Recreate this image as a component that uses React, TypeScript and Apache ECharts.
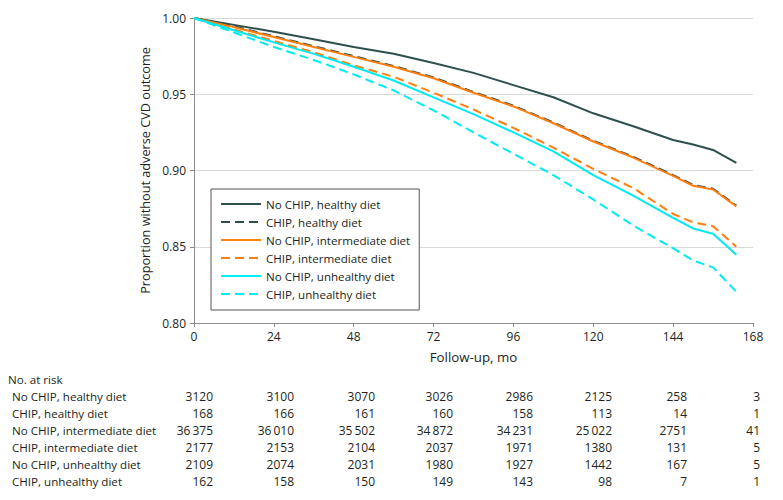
import React, { useEffect, useRef } from "react";
import * as echarts from "echarts";

const months = [0, 12, 24, 36, 48, 60, 72, 84, 96, 108, 120, 132, 144, 150, 156, 163];

const noChipHealthy = [1, 0.9955, 0.991, 0.986, 0.981, 0.9765, 0.9705, 0.964, 0.956, 0.948, 0.9375, 0.929, 0.92, 0.917, 0.9135, 0.905];
const chipHealthy = [1, 0.9945, 0.988, 0.9815, 0.975, 0.9685, 0.961, 0.9515, 0.9425, 0.9315, 0.9195, 0.909, 0.897, 0.8905, 0.888, 0.877];
const noChipIntermediate = [1, 0.994, 0.9875, 0.981, 0.9745, 0.968, 0.9605, 0.951, 0.942, 0.931, 0.919, 0.9085, 0.8965, 0.89, 0.8875, 0.8765];
const chipIntermediate = [1, 0.9925, 0.985, 0.9775, 0.969, 0.9615, 0.951, 0.94, 0.928, 0.915, 0.901, 0.8885, 0.8715, 0.866, 0.8635, 0.85];
const noChipUnhealthy = [1, 0.992, 0.984, 0.9765, 0.968, 0.959, 0.948, 0.937, 0.925, 0.9125, 0.897, 0.8835, 0.869, 0.862, 0.8585, 0.8447];
const chipUnhealthy = [1, 0.9905, 0.981, 0.9725, 0.963, 0.9525, 0.9395, 0.925, 0.911, 0.897, 0.881, 0.864, 0.849, 0.841, 0.8365, 0.8204];

const groupNames = [
  "No CHIP, healthy diet",
  "CHIP, healthy diet",
  "No CHIP, intermediate diet",
  "CHIP, intermediate diet",
  "No CHIP, unhealthy diet",
  "CHIP, unhealthy diet",
];

const riskTimes = [0, 24, 48, 72, 96, 120, 144, 168];
const riskNoChipHealthy = ["3120", "3100", "3070", "3026", "2986", "2125", "258", "3"];
const riskChipHealthy = ["168", "166", "161", "160", "158", "113", "14", "1"];
const riskNoChipIntermediate = ["36\u2009375", "36\u2009010", "35\u2009502", "34\u2009872", "34\u2009231", "25\u2009022", "2751", "41"];
const riskChipIntermediate = ["2177", "2153", "2104", "2037", "1971", "1380", "131", "5"];
const riskNoChipUnhealthy = ["2109", "2074", "2031", "1980", "1927", "1442", "167", "5"];
const riskChipUnhealthy = ["162", "158", "150", "149", "143", "98", "7", "1"];

const FONT = '"Open Sans", "Noto Sans", sans-serif';
const TEXT = "#231f20";
const DARK = "#2f4f4f";
const ORANGE = "#ff7f0e";
const CYAN = "#00ebf2";

export default function App() {
  const ref = useRef<HTMLDivElement>(null);

  useEffect(() => {
    if (!ref.current) return;
    const chart = echarts.init(ref.current, null, { renderer: "svg" });

    const seriesValues = [
      noChipHealthy,
      chipHealthy,
      noChipIntermediate,
      chipIntermediate,
      noChipUnhealthy,
      chipUnhealthy,
    ];
    const colors = [DARK, DARK, ORANGE, ORANGE, CYAN, CYAN];
    const dashed = [false, true, false, true, false, true];

    const series = seriesValues.map((vals, i) => ({
      name: groupNames[i],
      type: "line",
      symbol: "none",
      data: months.map((m, j) => [m, vals[j]]),
      lineStyle: {
        color: colors[i],
        width: 2,
        type: dashed[i] ? [9, 5] : "solid",
      },
      itemStyle: { color: colors[i] },
      z: 2 + i,
    }));

    const riskRows = [
      riskNoChipHealthy,
      riskChipHealthy,
      riskNoChipIntermediate,
      riskChipIntermediate,
      riskNoChipUnhealthy,
      riskChipUnhealthy,
    ];
    const colRight = [213, 294, 375, 453, 533, 612, 687, 760];
    const rowY = [396, 413, 430, 447, 464, 481];

    const graphics: any[] = [
      {
        type: "text",
        x: 8,
        y: 379,
        style: {
          text: "No. at risk",
          font: `11.6px ${FONT}`,
          fill: TEXT,
          textAlign: "left",
          textVerticalAlign: "middle",
        },
      },
    ];
    riskRows.forEach((row, r) => {
      graphics.push({
        type: "text",
        x: 12,
        y: rowY[r],
        style: {
          text: groupNames[r],
          font: `11.6px ${FONT}`,
          fill: TEXT,
          textAlign: "left",
          textVerticalAlign: "middle",
        },
      });
      row.forEach((v, c) => {
        graphics.push({
          type: "text",
          x: colRight[c],
          y: rowY[r],
          style: {
            text: v,
            font: `12px ${FONT}`,
            fill: TEXT,
            textAlign: "right",
            textVerticalAlign: "middle",
          },
        });
      });
    });

    chart.setOption({
      animation: false,
      backgroundColor: "#ffffff",
      textStyle: { fontFamily: FONT },
      grid: { left: 194, right: 30, top: 18, bottom: 177, containLabel: false },
      legend: {
        orient: "vertical",
        left: 211,
        top: 189,
        padding: [8, 9, 9, 9],
        itemWidth: 40,
        itemHeight: 14,
        itemGap: 4,
        backgroundColor: "#ffffff",
        borderColor: "#555555",
        borderWidth: 1,
        borderRadius: 0,
        data: groupNames,
        itemStyle: { opacity: 0 },
        textStyle: { fontFamily: FONT, fontSize: 11.6, color: TEXT, lineHeight: 14 },
      },
      xAxis: {
        type: "value",
        min: 0,
        max: 168,
        interval: 24,
        name: "Follow-up, mo",
        nameLocation: "middle",
        nameGap: 27,
        nameTextStyle: { fontFamily: FONT, fontSize: 13.3, color: TEXT },
        axisLine: { lineStyle: { color: "#8c8c8c", width: 1 } },
        axisTick: { show: true, length: 4, lineStyle: { color: "#8c8c8c" } },
        axisLabel: { fontFamily: FONT, fontSize: 12, color: TEXT, margin: 7 },
        splitLine: { show: false },
      },
      yAxis: {
        type: "value",
        min: 0.8,
        max: 1.0,
        interval: 0.05,
        name: "Proportion without adverse CVD outcome",
        nameLocation: "middle",
        nameGap: 40,
        nameTextStyle: { fontFamily: FONT, fontSize: 12.7, color: TEXT },
        axisLine: { show: true, lineStyle: { color: "#8c8c8c", width: 1 } },
        axisTick: { show: true, length: 4, lineStyle: { color: "#8c8c8c" } },
        axisLabel: {
          fontFamily: FONT,
          fontSize: 12,
          color: TEXT,
          margin: 8,
          formatter: (v: number) => v.toFixed(2),
        },
        splitLine: { show: true, lineStyle: { color: "#d9d9d9", width: 1 } },
      },
      series,
      graphic: graphics,
    });

    return () => chart.dispose();
  }, []);

  return <div ref={ref} style={{ width: 783, height: 500, position: "absolute", left: 0, top: 0 }} />;
}
